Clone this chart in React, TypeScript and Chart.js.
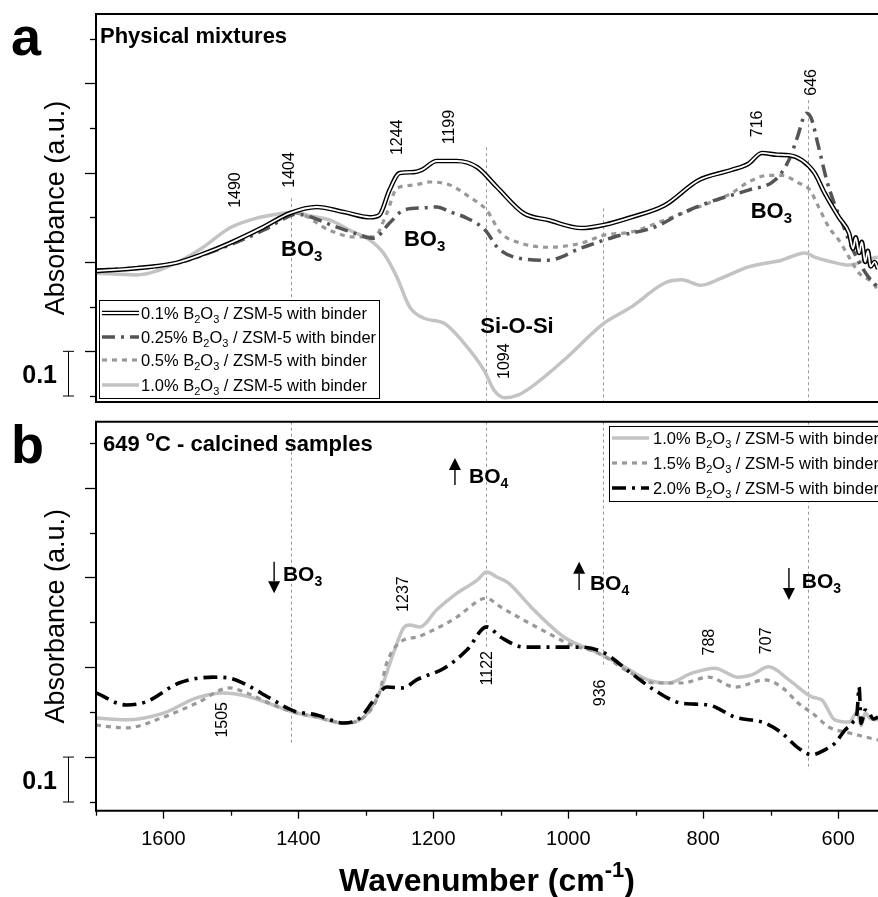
import React, { useEffect, useRef } from "react";
import { Chart, registerables } from "chart.js";

Chart.register(...registerables);

const FONT = "'Liberation Sans', Arial, Helvetica, sans-serif";

// ---------------- axes ----------------
const xMin = 541;
const xMax = 1700;
const xTickValues = [1700, 1600, 1500, 1400, 1300, 1200, 1100, 1000, 900, 800, 700, 600];
const xTickLabels = [1600, 1400, 1200, 1000, 800, 600];
const yTickValues = [0, 0.1, 0.2, 0.3, 0.4, 0.5, 0.6, 0.7, 0.8];
const yMajorTicks = [0.1, 0.3, 0.5, 0.7];
const yRangeA = [-0.0134, 0.855];
const yRangeB = [-0.0194, 0.847];
const scaleBar = [0, 0.1];

// ---------------- panel a : physical mixtures ----------------
const a01Wn = [1700, 1640, 1581, 1541, 1502, 1452, 1413, 1373, 1333, 1294, 1280, 1265, 1250, 1229, 1217, 1195, 1165, 1135, 1106, 1066, 1030, 981, 947, 907, 857, 807, 758, 733, 713, 690, 673, 654, 635, 620, 599, 584, 578, 574, 569, 565, 560, 556, 552, 546, 541];
const a01Val = [0.28, 0.286, 0.298, 0.318, 0.342, 0.378, 0.409, 0.423, 0.412, 0.4, 0.405, 0.461, 0.499, 0.501, 0.506, 0.526, 0.526, 0.512, 0.468, 0.409, 0.394, 0.376, 0.383, 0.4, 0.427, 0.483, 0.506, 0.52, 0.544, 0.54, 0.539, 0.528, 0.499, 0.454, 0.4, 0.365, 0.33, 0.355, 0.32, 0.345, 0.3, 0.325, 0.29, 0.3, 0.285];

const a025Wn = [1700, 1640, 1581, 1502, 1452, 1413, 1404, 1343, 1318, 1288, 1265, 1244, 1214, 1195, 1175, 1150, 1123, 1104, 1075, 1030, 981, 932, 872, 832, 783, 733, 694, 673, 661, 647, 640, 629, 617, 606, 594, 580, 565, 553, 541];
const a025Val = [0.282, 0.287, 0.298, 0.338, 0.371, 0.403, 0.407, 0.378, 0.365, 0.353, 0.387, 0.416, 0.421, 0.423, 0.412, 0.398, 0.371, 0.331, 0.309, 0.304, 0.331, 0.356, 0.378, 0.409, 0.438, 0.461, 0.483, 0.528, 0.577, 0.633, 0.622, 0.557, 0.483, 0.432, 0.387, 0.333, 0.289, 0.262, 0.244];

const a05Wn = [1700, 1640, 1581, 1502, 1452, 1413, 1404, 1354, 1318, 1288, 1269, 1254, 1229, 1205, 1175, 1146, 1121, 1100, 1070, 1030, 981, 947, 907, 857, 807, 758, 733, 703, 684, 659, 642, 629, 614, 599, 584, 569, 550, 541];
const a05Val = [0.28, 0.285, 0.296, 0.34, 0.376, 0.405, 0.409, 0.371, 0.356, 0.356, 0.409, 0.465, 0.472, 0.479, 0.472, 0.445, 0.416, 0.365, 0.342, 0.333, 0.342, 0.36, 0.367, 0.394, 0.423, 0.454, 0.479, 0.494, 0.494, 0.477, 0.461, 0.423, 0.378, 0.349, 0.311, 0.275, 0.255, 0.237];

const a10Wn = [1700, 1640, 1581, 1541, 1502, 1462, 1432, 1407, 1383, 1354, 1324, 1294, 1274, 1254, 1235, 1214, 1184, 1155, 1125, 1110, 1094, 1075, 1055, 1006, 947, 907, 857, 832, 803, 773, 733, 684, 649, 635, 609, 584, 560, 541];
const a10Val = [0.275, 0.271, 0.298, 0.333, 0.376, 0.398, 0.407, 0.412, 0.403, 0.394, 0.371, 0.349, 0.32, 0.266, 0.199, 0.174, 0.163, 0.119, 0.058, 0.013, -0.004, 0.002, 0.02, 0.081, 0.163, 0.199, 0.253, 0.26, 0.248, 0.264, 0.289, 0.304, 0.32, 0.311, 0.3, 0.293, 0.304, 0.311];

// ---------------- panel b : 649 °C calcined ----------------
const b10Wn = [1700, 1655, 1600, 1551, 1511, 1477, 1437, 1407, 1373, 1333, 1303, 1280, 1259, 1244, 1235, 1220, 1195, 1165, 1135, 1121, 1106, 1089, 1055, 1006, 956, 917, 882, 852, 817, 783, 748, 728, 703, 673, 639, 624, 605, 584, 572, 566, 560, 552, 541];
const b10Val = [0.187, 0.183, 0.198, 0.232, 0.243, 0.236, 0.216, 0.2, 0.189, 0.176, 0.189, 0.243, 0.332, 0.388, 0.394, 0.39, 0.428, 0.465, 0.494, 0.512, 0.501, 0.488, 0.434, 0.367, 0.332, 0.301, 0.272, 0.265, 0.287, 0.298, 0.278, 0.283, 0.301, 0.272, 0.234, 0.227, 0.183, 0.178, 0.2, 0.17, 0.198, 0.185, 0.183];

const b15Wn = [1700, 1655, 1600, 1551, 1502, 1477, 1437, 1407, 1373, 1333, 1303, 1280, 1269, 1244, 1225, 1200, 1165, 1131, 1122, 1100, 1066, 1030, 996, 956, 907, 872, 832, 792, 753, 709, 684, 659, 635, 614, 584, 560, 541];
const b15Val = [0.171, 0.165, 0.189, 0.22, 0.254, 0.243, 0.216, 0.2, 0.189, 0.176, 0.189, 0.243, 0.31, 0.361, 0.367, 0.383, 0.412, 0.45, 0.454, 0.434, 0.405, 0.376, 0.35, 0.332, 0.287, 0.265, 0.265, 0.278, 0.256, 0.272, 0.256, 0.22, 0.194, 0.167, 0.154, 0.145, 0.138];

const b20Wn = [1700, 1655, 1626, 1577, 1526, 1502, 1477, 1443, 1407, 1373, 1333, 1309, 1288, 1269, 1244, 1225, 1184, 1150, 1121, 1100, 1066, 1030, 981, 947, 907, 872, 832, 792, 753, 709, 684, 659, 639, 620, 605, 590, 578, 572, 569, 566, 560, 554, 548, 541];
const b20Val = [0.243, 0.216, 0.223, 0.265, 0.278, 0.276, 0.261, 0.232, 0.203, 0.194, 0.176, 0.187, 0.227, 0.256, 0.254, 0.272, 0.298, 0.339, 0.39, 0.367, 0.345, 0.345, 0.345, 0.332, 0.287, 0.249, 0.22, 0.216, 0.189, 0.176, 0.154, 0.12, 0.105, 0.116, 0.131, 0.16, 0.178, 0.2, 0.256, 0.175, 0.205, 0.198, 0.185, 0.189];

// ---------------- labels ----------------
const legendA = ["0.1% B_2O_3 / ZSM-5 with binder", "0.25% B_2O_3 / ZSM-5 with binder", "0.5% B_2O_3 / ZSM-5 with binder", "1.0% B_2O_3 / ZSM-5 with binder"];
const legendB = ["1.0% B_2O_3 / ZSM-5 with binder", "1.5% B_2O_3 / ZSM-5 with binder", "2.0% B_2O_3 / ZSM-5 with binder"];
const titleA = "Physical mixtures";
const titleB = "649 ^{o}C - calcined samples";
const yTitle = "Absorbance (a.u.)";
const xTitle = "Wavenumber (cm^{-1})";

const peaksA = [
  { text: "1490", wn: 1493, v: 0.461 },
  { text: "1404", wn: 1413, v: 0.506 },
  { text: "1244", wn: 1253, v: 0.579 },
  { text: "1199", wn: 1176, v: 0.602 },
  { text: "716", wn: 719, v: 0.609 },
  { text: "646", wn: 639, v: 0.702 },
  { text: "1094", wn: 1094, v: 0.078 },
];
const peaksB = [
  { text: "1505", wn: 1512, v: 0.183 },
  { text: "1237", wn: 1244, v: 0.463 },
  { text: "1122", wn: 1119, v: 0.298 },
  { text: "936", wn: 952, v: 0.243 },
  { text: "788", wn: 790, v: 0.356 },
  { text: "707", wn: 706, v: 0.359 },
];
const speciesA = [
  { text: "BO_3", wn: 1395, v: 0.331, align: "center" },
  { text: "BO_3", wn: 1213, v: 0.353, align: "center" },
  { text: "Si-O-Si", wn: 1076, v: 0.159, align: "center" },
  { text: "BO_3", wn: 699, v: 0.416, align: "center" },
];
const speciesB = [
  { text: "BO_3", wn: 1423, v: 0.51, align: "left" },
  { text: "BO_4", wn: 1147, v: 0.728, align: "left" },
  { text: "BO_4", wn: 968, v: 0.49, align: "left" },
  { text: "BO_3", wn: 654, v: 0.494, align: "left" },
];
const arrowsB = [
  { wn: 1436, tail: 0.535, tip: 0.465 },
  { wn: 1168, tail: 0.706, tip: 0.766 },
  { wn: 984, tail: 0.472, tip: 0.535 },
  { wn: 673, tail: 0.521, tip: 0.45 },
];
const vlinesA = [
  { wn: 1411, from: 0.443, to: -0.0134 },
  { wn: 1122, from: 0.557, to: -0.0134 },
  { wn: 949, from: 0.42, to: -0.0134 },
  { wn: 645, from: 0.662, to: -0.0134 },
];
const vlinesB = [
  { wn: 1411, from: 0.847, to: 0.131 },
  { wn: 1122, from: 0.847, to: 0.339 },
  { wn: 949, from: 0.847, to: 0.305 },
  { wn: 645, from: 0.847, to: 0.071 },
];

// ---------------- visual styles ----------------
type LineStyle = { color: string; width: number; dash: number[]; inner?: { color: string; width: number } };
const STY: Record<string, LineStyle> = {
  double: { color: "#000000", width: 4.6, dash: [], inner: { color: "#ffffff", width: 1.8 } },
  dashdotDark: { color: "#555555", width: 3.5, dash: [13, 6, 3, 6] },
  dashGray: { color: "#999999", width: 3.2, dash: [5, 5] },
  solidLight: { color: "#c3c3c3", width: 3.5, dash: [] },
  dashdotBlack: { color: "#000000", width: 3.6, dash: [14, 6, 3, 6] },
};

// ---------------- helpers ----------------
type Seg = { t: string; k: "n" | "sub" | "sup" };
function parseRich(s: string): Seg[] {
  const segs: Seg[] = [];
  let buf = "";
  let i = 0;
  const flush = () => {
    if (buf) segs.push({ t: buf, k: "n" });
    buf = "";
  };
  while (i < s.length) {
    const c = s[i];
    if (c === "_") {
      flush();
      segs.push({ t: s[i + 1], k: "sub" });
      i += 2;
    } else if (c === "^" && s[i + 1] === "{") {
      flush();
      const j = s.indexOf("}", i);
      segs.push({ t: s.slice(i + 2, j), k: "sup" });
      i = j + 1;
    } else {
      buf += c;
      i++;
    }
  }
  flush();
  return segs;
}

function drawRich(ctx: CanvasRenderingContext2D, text: string, x: number, y: number, size: number, bold: boolean, align: string) {
  const segs = parseRich(text);
  const w = bold ? "bold " : "";
  const fontOf = (k: string) => `${w}${k === "n" ? size : Math.round(size * 0.68)}px ${FONT}`;
  let total = 0;
  for (const sg of segs) {
    ctx.font = fontOf(sg.k);
    total += ctx.measureText(sg.t).width;
  }
  let cx = align === "center" ? x - total / 2 : align === "right" ? x - total : x;
  ctx.textAlign = "left";
  ctx.textBaseline = "alphabetic";
  for (const sg of segs) {
    ctx.font = fontOf(sg.k);
    const dy = sg.k === "sub" ? size * 0.24 : sg.k === "sup" ? -size * 0.42 : 0;
    ctx.fillText(sg.t, cx, y + dy);
    cx += ctx.measureText(sg.t).width;
  }
}

function strokeSample(ctx: CanvasRenderingContext2D, st: LineStyle, x0: number, x1: number, y: number) {
  ctx.save();
  ctx.beginPath();
  ctx.moveTo(x0, y);
  ctx.lineTo(x1, y);
  ctx.strokeStyle = st.color;
  ctx.lineWidth = st.width;
  ctx.setLineDash(st.dash);
  ctx.stroke();
  if (st.inner) {
    ctx.beginPath();
    ctx.moveTo(x0 - 1, y);
    ctx.lineTo(x1 + 1, y);
    ctx.strokeStyle = st.inner.color;
    ctx.lineWidth = st.inner.width;
    ctx.setLineDash([]);
    ctx.stroke();
  }
  ctx.restore();
}

type Decor = {
  letter: string;
  title: string;
  titleDx: number;
  speciesSize: number;
  peaks: { text: string; wn: number; v: number }[];
  species: { text: string; wn: number; v: number; align: string }[];
  arrows: { wn: number; tail: number; tip: number }[];
  vlines: { wn: number; from: number; to: number }[];
  legend: { dx: number; dy: number; w: number; h: number; rows: number[]; textDx: number; items: string[]; styles: string[] };
  xAxis: boolean;
};

function makeDecor(cfg: Decor) {
  return {
    id: "decor",
    beforeDatasetsDraw(chart: any) {
      const { ctx, scales } = chart;
      const x = scales.x;
      const y = scales.y;
      ctx.save();
      ctx.strokeStyle = "#9a9a9a";
      ctx.lineWidth = 1;
      ctx.setLineDash([3, 3]);
      for (const vl of cfg.vlines) {
        const px = Math.round(x.getPixelForValue(vl.wn)) + 0.5;
        ctx.beginPath();
        ctx.moveTo(px, y.getPixelForValue(vl.from));
        ctx.lineTo(px, y.getPixelForValue(vl.to));
        ctx.stroke();
      }
      ctx.restore();
    },
    afterDraw(chart: any) {
      const { ctx, chartArea: ca, scales } = chart;
      const x = scales.x;
      const y = scales.y;
      ctx.save();
      ctx.fillStyle = "#000";
      ctx.setLineDash([]);

      // frame
      ctx.strokeStyle = "#000";
      ctx.lineWidth = 2;
      ctx.beginPath();
      ctx.moveTo(ca.right + 3, ca.top);
      ctx.lineTo(ca.left, ca.top);
      ctx.lineTo(ca.left, ca.bottom);
      ctx.lineTo(ca.right + 3, ca.bottom);
      ctx.stroke();

      // y ticks
      ctx.lineWidth = 1.3;
      for (const v of yTickValues) {
        const py = Math.round(y.getPixelForValue(v)) + 0.5;
        const len = yMajorTicks.includes(v) ? 11 : 6;
        ctx.beginPath();
        ctx.moveTo(ca.left - len, py);
        ctx.lineTo(ca.left, py);
        ctx.stroke();
      }
      // x ticks
      if (cfg.xAxis) {
        for (const w of xTickValues) {
          const px = Math.round(x.getPixelForValue(w)) + 0.5;
          const len = xTickLabels.includes(w) ? 8 : 5;
          ctx.beginPath();
          ctx.moveTo(px, ca.bottom);
          ctx.lineTo(px, ca.bottom + len);
          ctx.stroke();
        }
        drawRich(ctx, xTitle, (ca.left + ca.right) / 2, ca.bottom + 80, 32, true, "center");
      }

      // scale bar
      const yb0 = y.getPixelForValue(scaleBar[0]);
      const yb1 = y.getPixelForValue(scaleBar[1]);
      const bx = ca.left - 27.5;
      ctx.lineWidth = 1;
      ctx.beginPath();
      ctx.moveTo(bx, yb0);
      ctx.lineTo(bx, yb1);
      ctx.moveTo(bx - 5.5, yb0);
      ctx.lineTo(bx + 5.5, yb0);
      ctx.moveTo(bx - 5.5, yb1);
      ctx.lineTo(bx + 5.5, yb1);
      ctx.stroke();
      drawRich(ctx, "0.1", ca.left - 39, (yb0 + yb1) / 2 + 9, 25, true, "right");

      // panel letter
      ctx.font = `bold 54px ${FONT}`;
      ctx.textAlign = "left";
      ctx.textBaseline = "alphabetic";
      ctx.fillText(cfg.letter, ca.left - 85, ca.top + 41);

      // y title
      ctx.save();
      ctx.translate(ca.left - 39, (ca.top + ca.bottom) / 2);
      ctx.rotate(-Math.PI / 2);
      ctx.font = `27px ${FONT}`;
      ctx.textAlign = "center";
      ctx.textBaseline = "middle";
      ctx.fillText(yTitle, 0, 0);
      ctx.restore();

      // panel title
      drawRich(ctx, cfg.title, ca.left + cfg.titleDx, ca.top + 29, 22, true, "left");

      // peak labels (rotated)
      for (const p of cfg.peaks) {
        ctx.save();
        ctx.translate(x.getPixelForValue(p.wn), y.getPixelForValue(p.v));
        ctx.rotate(-Math.PI / 2);
        ctx.font = `16px ${FONT}`;
        ctx.textAlign = "center";
        ctx.textBaseline = "middle";
        ctx.fillText(p.text, 0, 0);
        ctx.restore();
      }

      // species labels
      for (const s of cfg.species) {
        drawRich(ctx, s.text, x.getPixelForValue(s.wn), y.getPixelForValue(s.v) + cfg.speciesSize * 0.36, cfg.speciesSize, true, s.align);
      }

      // arrows
      for (const a of cfg.arrows) {
        const px = x.getPixelForValue(a.wn);
        const pt = y.getPixelForValue(a.tail);
        const ph = y.getPixelForValue(a.tip);
        const dir = ph > pt ? 1 : -1;
        const headLen = 12;
        ctx.lineWidth = 1.4;
        ctx.beginPath();
        ctx.moveTo(px, pt);
        ctx.lineTo(px, ph - dir * headLen);
        ctx.stroke();
        ctx.beginPath();
        ctx.moveTo(px, ph);
        ctx.lineTo(px - 6, ph - dir * headLen);
        ctx.lineTo(px + 6, ph - dir * headLen);
        ctx.closePath();
        ctx.fill();
      }

      // legend
      const L = cfg.legend;
      const lx = ca.left + L.dx;
      const ly = ca.top + L.dy;
      ctx.fillStyle = "#fff";
      ctx.fillRect(lx, ly, L.w, L.h);
      ctx.strokeStyle = "#000";
      ctx.lineWidth = 1;
      ctx.strokeRect(lx + 0.5, ly + 0.5, L.w, L.h);
      ctx.fillStyle = "#000";
      L.items.forEach((txt, i) => {
        const ry = ly + L.rows[i];
        strokeSample(ctx, STY[L.styles[i]], lx + 3, lx + 40, ry);
        drawRich(ctx, txt, lx + L.textDx, ry + 6, 16.5, false, "left");
      });

      ctx.restore();
    },
  };
}

function dataset(wn: number[], val: number[], st: LineStyle, order: number, inner = false) {
  return {
    data: wn.map((w, i) => ({ x: w, y: val[i] })),
    borderColor: inner && st.inner ? st.inner.color : st.color,
    borderWidth: inner && st.inner ? st.inner.width : st.width,
    borderDash: inner ? [] : st.dash,
    pointRadius: 0,
    fill: false,
    order,
    cubicInterpolationMode: "monotone",
  };
}

function baseOptions(yRange: number[], padding: any, xDisplay: boolean) {
  const xScale: any = {
    type: "linear",
    reverse: true,
    min: xMin,
    max: xMax,
    display: xDisplay,
    position: "bottom",
    grid: { display: false, drawTicks: true, tickLength: 10 },
    border: { display: false },
    ticks: {
      color: "#000",
      font: { family: FONT, size: 20 },
      padding: 7,
      maxRotation: 0,
      autoSkip: false,
      callback: (v: any) => String(v),
    },
    afterBuildTicks: (s: any) => {
      s.ticks = xTickLabels.map((v) => ({ value: v }));
    },
  };
  if (xDisplay) {
    xScale.afterFit = (s: any) => {
      s.height = 86.3;
    };
  }
  return {
    animation: false,
    responsive: false,
    maintainAspectRatio: false,
    events: [],
    layout: { padding },
    plugins: { legend: { display: false }, tooltip: { enabled: false } },
    scales: {
      x: xScale,
      y: { type: "linear", min: yRange[0], max: yRange[1], display: false },
    },
  };
}

export default function App() {
  const refA = useRef<HTMLCanvasElement>(null);
  const refB = useRef<HTMLCanvasElement>(null);

  useEffect(() => {
    document.body.style.margin = "0";
    const chartA = new Chart(refA.current as HTMLCanvasElement, {
      type: "line",
      data: {
        datasets: [
          dataset(a01Wn, a01Val, STY.double, 0, true),
          dataset(a01Wn, a01Val, STY.double, 1),
          dataset(a025Wn, a025Val, STY.dashdotDark, 2),
          dataset(a05Wn, a05Val, STY.dashGray, 3),
          dataset(a10Wn, a10Val, STY.solidLight, 4),
        ] as any,
      },
      options: baseOptions(yRangeA, { left: 96, top: 14, right: 0, bottom: 8 }, false) as any,
      plugins: [
        makeDecor({
          letter: "a",
          title: titleA,
          titleDx: 4,
          speciesSize: 22,
          peaks: peaksA,
          species: speciesA,
          arrows: [],
          vlines: vlinesA,
          legend: { dx: 3, dy: 286, w: 280, h: 98, rows: [13, 37, 60, 85], textDx: 42, items: legendA, styles: ["double", "dashdotDark", "dashGray", "solidLight"] },
          xAxis: false,
        }),
      ],
    });
    const chartB = new Chart(refB.current as HTMLCanvasElement, {
      type: "line",
      data: {
        datasets: [
          dataset(b10Wn, b10Val, STY.solidLight, 2),
          dataset(b15Wn, b15Val, STY.dashGray, 1),
          dataset(b20Wn, b20Val, STY.dashdotBlack, 0),
        ] as any,
      },
      options: baseOptions(yRangeB, { left: 96, top: 11.7, right: 0, bottom: 0 }, true) as any,
      plugins: [
        makeDecor({
          letter: "b",
          title: titleB,
          titleDx: 7,
          speciesSize: 21,
          peaks: peaksB,
          species: speciesB,
          arrows: arrowsB,
          vlines: vlinesB,
          legend: { dx: 513, dy: 4.3, w: 300, h: 75, rows: [12, 37, 62], textDx: 44, items: legendB, styles: ["solidLight", "dashGray", "dashdotBlack"] },
          xAxis: true,
        }),
      ],
    });
    return () => {
      chartA.destroy();
      chartB.destroy();
    };
  }, []);

  return (
    <div style={{ position: "relative", width: 878, height: 897, background: "#fff", overflow: "hidden" }}>
      <canvas ref={refA} width={878} height={410} style={{ position: "absolute", left: 0, top: 0 }} />
      <canvas ref={refB} width={878} height={487} style={{ position: "absolute", left: 0, top: 410 }} />
    </div>
  );
}
